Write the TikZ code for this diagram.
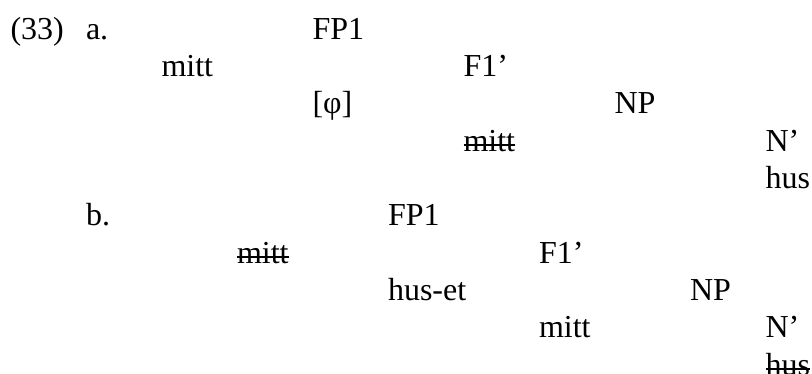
\documentclass[tikz,border=0pt]{standalone}
\usepackage{fontspec}
\setmainfont{Liberation Serif}
\tikzset{
  word/.style={anchor=base west, inner sep=0pt, outer sep=0pt, font=\fontsize{32bp}{37bp}\selectfont},
  strikeline/.style={line width=1.4bp, line cap=butt}
}
\newcommand{\tabx}[1]{\fpeval{10.5+75.5*#1}}
\newcommand{\rowy}[1]{\fpeval{39+37.35*(#1-1)}}
\begin{document}
\begin{tikzpicture}[x=1bp, y=-1bp]
\useasboundingbox (0,0) rectangle (812,373);
% (33) a.
\node[word] (ex)   at (\tabx{0},\rowy{1}) {(33)};
\node[word] (la)   at (\tabx{1},\rowy{1}) {a.};
\node[word] (aFP)  at (\tabx{4},\rowy{1}) {FP1};
\node[word] (amitt) at (\tabx{2},\rowy{2}) {mitt};
\node[word] (aF)   at (\tabx{6},\rowy{2}) {F1’};
\node[word] (aphi) at (\tabx{4},\rowy{3}) {[φ]};
\node[word] (aNP)  at (\tabx{8},\rowy{3}) {NP};
\node[word] (amitts) at (\tabx{6},\rowy{4}) {mitt};
\node[word] (aN)   at (\tabx{10},\rowy{4}) {N’};
\node[word] (ahus) at (\tabx{10},\rowy{5}) {hus};
% b.
\node[word] (lb)   at (\tabx{1},\rowy{6}) {b.};
\node[word] (bFP)  at (\tabx{5},\rowy{6}) {FP1};
\node[word] (bmitts) at (\tabx{3},\rowy{7}) {mitt};
\node[word] (bF)   at (\tabx{7},\rowy{7}) {F1’};
\node[word] (bhuset) at (\tabx{5},\rowy{8}) {hus-et};
\node[word] (bNP)  at (\tabx{9},\rowy{8}) {NP};
\node[word] (bmitt) at (\tabx{7},\rowy{9}) {mitt};
\node[word] (bN)   at (\tabx{10},\rowy{9}) {N’};
\node[word] (bhuss) at (\tabx{10},\rowy{10}) {hus};
% strike-throughs
\foreach \n in {amitts,bmitts,bhuss}{
  \draw[strikeline] ([yshift=6bp]\n.base west) -- ([yshift=6bp]\n.base east);
}
\end{tikzpicture}
\end{document}
